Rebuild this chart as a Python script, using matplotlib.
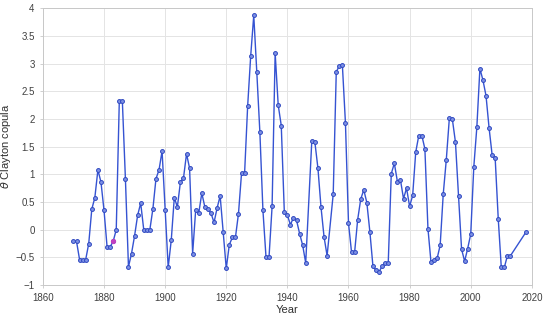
"""Clayton copula parameter over time."""

import matplotlib
matplotlib.use("Agg")
import matplotlib.pyplot as plt
import numpy as np

# Yearly theta values (1947, 1954 and 2014-2017 absent)
years = (
    list(range(1870, 1947)) + list(range(1948, 1954))
    + list(range(1955, 2014)) + [2018]
)
theta = [
    # 1870-1879
    -0.21, -0.21, -0.54, -0.54, -0.54, -0.25, 0.37, 0.58, 1.08, 0.86,
    # 1880-1889
    0.35, -0.31, -0.31, -0.21, 0.0, 2.32, 2.32, 0.92, -0.67, -0.43,
    # 1890-1899
    -0.11, 0.26, 0.48, 0.0, 0.0, 0.0, 0.38, 0.92, 1.08, 1.42,
    # 1900-1909
    0.36, -0.68, -0.19, 0.58, 0.41, 0.86, 0.93, 1.37, 1.11, -0.43,
    # 1910-1919
    0.36, 0.30, 0.66, 0.41, 0.37, 0.30, 0.13, 0.39, 0.61, -0.04,
    # 1920-1929
    -0.70, -0.27, -0.14, -0.14, 0.29, 1.02, 1.02, 2.23, 3.14, 3.87,
    # 1930-1939
    2.84, 1.76, 0.35, -0.49, -0.49, 0.42, 3.19, 2.25, 1.88, 0.32,
    # 1940-1946
    0.26, 0.09, 0.22, 0.17, -0.07, -0.28, -0.60,
    # 1948-1953
    1.61, 1.58, 1.11, 0.41, -0.13, -0.47,
    # 1955-1964
    0.64, 2.85, 2.96, 2.97, 1.93, 0.12, -0.41, -0.41, 0.18, 0.55,
    # 1965-1974
    0.72, 0.49, -0.04, -0.66, -0.73, -0.76, -0.66, -0.61, -0.61, 1.01,
    # 1975-1984
    1.20, 0.87, 0.90, 0.56, 0.75, 0.42, 0.62, 1.40, 1.70, 1.70,
    # 1985-1994
    1.46, 0.02, -0.59, -0.54, -0.52, -0.28, 0.64, 1.26, 2.01, 1.99,
    # 1995-2004
    1.58, 0.61, -0.35, -0.57, -0.34, -0.08, 1.13, 1.85, 2.91, 2.70,
    # 2005-2013
    2.42, 1.84, 1.35, 1.29, 0.20, -0.68, -0.68, -0.47, -0.47,
    # 2018
    -0.05,
]
highlight_year = 1883

yticks = np.arange(-1, 4.01, 0.5)
ytick_labels = ["\u22121", "\u22120.5", "0", "0.5", "1", "1.5", "2", "2.5", "3", "3.5", "4"]
xticks = list(range(1860, 2021, 20))

plt.rcParams["font.family"] = ["Liberation Sans", "DejaVu Sans"]

fig = plt.figure(figsize=(5.5, 3.15), dpi=100)
ax = fig.add_axes([0.078, 0.095, 0.889, 0.879])

line_color = "#3553d2"
ax.plot(years, theta, color=line_color, linewidth=1.0, marker="o", markersize=2.8,
        markerfacecolor="#7d90e4", markeredgecolor="#2f48c0", markeredgewidth=0.7,
        zorder=3)

hi = years.index(highlight_year)
ax.plot(years[hi], theta[hi], marker="o", markersize=2.8, color="#c040c0",
        linestyle="none", zorder=4)

ax.set_xlim(1860, 2020)
ax.set_ylim(-1, 4)
ax.set_xticks(xticks)
ax.set_yticks(yticks)
ax.set_yticklabels(ytick_labels)

ax.grid(True, color="#e4e4e4", linewidth=0.7)
ax.set_axisbelow(True)
for s in ax.spines.values():
    s.set_color("#c8c8c8")
    s.set_linewidth(0.7)
ax.tick_params(colors="#c8c8c8", labelcolor="#404040", labelsize=7, length=2.5, width=0.6)

ax.set_xlabel("Year", fontsize=8, color="#303030", labelpad=1)
ax.set_ylabel(r"$\theta$ Clayton copula", fontsize=8, color="#303030")
ax.yaxis.set_label_coords(-0.062, 0.5)

fig.savefig("out.png", dpi=100)
plt.close(fig)
